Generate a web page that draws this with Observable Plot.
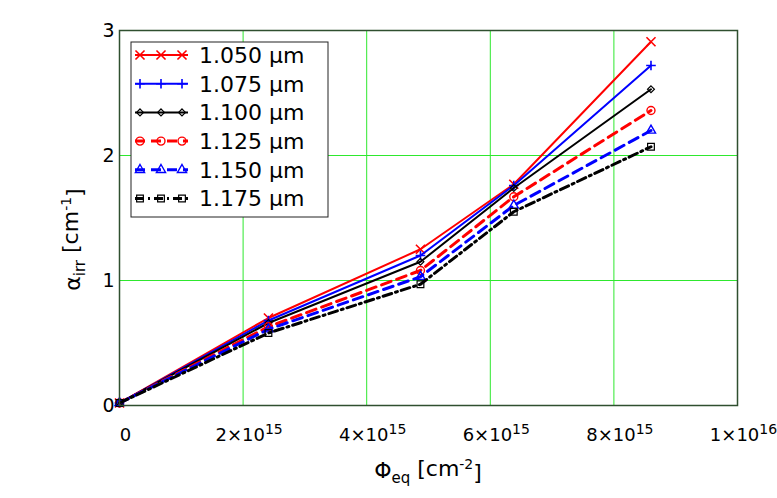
<!DOCTYPE html>
<html><head><meta charset="utf-8">
<script src="https://cdn.jsdelivr.net/npm/d3@7"></script>
<script src="https://cdn.jsdelivr.net/npm/@observablehq/plot@0.6"></script>
<style>body{margin:0;background:#fff} svg{display:block}</style>
</head><body><div id="chart"></div>
<script>
// ---- data ----
const series = ["1.050 µm", "1.075 µm", "1.100 µm", "1.125 µm", "1.150 µm", "1.175 µm"];
const fluence = [0, 2.41e15, 4.87e15, 6.38e15, 8.6e15];
const alpha1050 = [0.02, 0.70, 1.25, 1.77, 2.91];
const alpha1075 = [0.02, 0.68, 1.20, 1.76, 2.72];
const alpha1100 = [0.02, 0.66, 1.15, 1.74, 2.53];
const alpha1125 = [0.02, 0.63, 1.08, 1.67, 2.36];
const alpha1150 = [0.02, 0.61, 1.03, 1.60, 2.20];
const alpha1175 = [0.02, 0.58, 0.97, 1.55, 2.07];
const xTicks = [0, 2e15, 4e15, 6e15, 8e15, 1e16];
const yTicks = [0, 1, 2, 3];

// ---- styles ----
const values = [alpha1050, alpha1075, alpha1100, alpha1125, alpha1150, alpha1175];
const colors = ["#ff0000", "#0000ff", "#000000", "#ff0000", "#0000ff", "#000000"];
const widths = [2, 2, 2, 3, 3, 3];
const dashes = [null, null, null, "10,6", "10,6", "9,4,2,4"];
const symbols = ["times", "plus", "diamond2", "circle", "triangle", "square"];
const d3symbols = [d3.symbolTimes, d3.symbolPlus, d3.symbolDiamond2, d3.symbolCircle, d3.symbolTriangle, d3.symbolSquare];
const radii = [4.2, 3.2, 3.1, 4, 3.4, 3.8];
const mstroke = [1.6, 1.6, 1.2, 1.4, 1.4, 1.2];
const font = "DejaVu Sans, Verdana, sans-serif";

const rows = series.flatMap((s, si) => fluence.map((f, i) => ({series: s, si, f, a: values[si][i]})));

const lineMarks = series.map((s, si) => Plot.line(rows.filter(r => r.si === si), {
  x: "f", y: "a", stroke: colors[si], strokeWidth: widths[si], strokeDasharray: dashes[si]
}));
const dotMarks = series.map((s, si) => Plot.dot(rows.filter(r => r.si === si), {
  x: "f", y: "a", symbol: symbols[si], r: radii[si], stroke: colors[si], fill: "none", strokeWidth: mstroke[si]
}));

const fmt = d => {
  if (d === 0) return "0";
  const e = Math.floor(Math.log10(d));
  const m = Math.round(d / 10 ** e);
  return `${m}×10^${e}`;
};

const chart = Plot.plot({
  width: 777, height: 498,
  marginLeft: 119, marginRight: 40, marginTop: 30, marginBottom: 93,
  style: {fontFamily: font, fontSize: "18px", background: "white", color: "#000", overflow: "visible"},
  x: {domain: [0, 1e16]},
  y: {domain: [0, 3]},
  marks: [
    Plot.gridX([2e15, 4e15, 6e15, 8e15], {stroke: "#2ee82e", strokeOpacity: 1, strokeWidth: 1}),
    Plot.gridY([1, 2], {stroke: "#2ee82e", strokeOpacity: 1, strokeWidth: 1}),
    ...lineMarks.flatMap((l, i) => [l, dotMarks[i]]),
    Plot.frame({stroke: "#2f4f2f", strokeWidth: 1.5}),
    Plot.axisX(xTicks, {tickSize: 0, tickPadding: 23, tickFormat: fmt, fontSize: 18, label: null, dx: 6}),
    Plot.axisY(yTicks, {tickSize: 0, tickPadding: 5, tickFormat: d => String(d), fontSize: 19, label: null})
  ]
});
document.getElementById("chart").appendChild(chart);

const svg = d3.select(chart);
// superscripts in x tick labels
svg.selectAll('g[aria-label="x-axis tick label"] text').each(function() {
  const s = this.textContent;
  if (!s.includes("^")) return;
  const [base, exp] = s.split("^");
  const t = d3.select(this);
  t.text("");
  t.append("tspan").text(base);
  t.append("tspan").attr("dy", "-0.55em").attr("font-size", "14px").text(exp);
});

const sx = chart.scale("x"), sy = chart.scale("y");
const cx = (sx.apply(0) + sx.apply(1e16)) / 2;
// x axis title
const xt = svg.append("text").attr("x", cx).attr("y", 478).attr("text-anchor", "middle")
  .attr("font-family", font).attr("font-size", 22);
xt.append("tspan").text("Φ");
xt.append("tspan").attr("dy", "0.3em").attr("font-size", 15).text("eq");
xt.append("tspan").attr("dy", "-0.3em").text(" [cm");
xt.append("tspan").attr("dy", "-0.5em").attr("font-size", 14).text("-2");
xt.append("tspan").attr("dy", "0.5em").text("]");
// y axis title
const yt = svg.append("text").attr("transform", `translate(80,${(sy.apply(0) + sy.apply(3)) / 2 + 22}) rotate(-90)`)
  .attr("text-anchor", "middle").attr("font-family", font).attr("font-size", 22);
yt.append("tspan").text("α");
yt.append("tspan").attr("dy", "0.3em").attr("font-size", 15).text("irr");
yt.append("tspan").attr("dy", "-0.3em").text(" [cm");
yt.append("tspan").attr("dy", "-0.5em").attr("font-size", 14).text("-1");
yt.append("tspan").attr("dy", "0.5em").text("]");

// legend
const lg = svg.append("g");
const lx = sx.apply(0) + 12, ly = sy.apply(3) + 12, rowH = 28.7;
lg.append("rect").attr("x", lx).attr("y", ly).attr("width", 197).attr("height", 175)
  .attr("fill", "white").attr("stroke", "#222").attr("stroke-width", 1);
series.forEach((s, i) => {
  const y = ly + 13 + i * rowH;
  lg.append("line").attr("x1", lx + 4).attr("x2", lx + 57).attr("y1", y).attr("y2", y)
    .attr("stroke", colors[i]).attr("stroke-width", widths[i]).attr("stroke-dasharray", dashes[i]);
  [9, 30, 51].forEach(dx => {
    lg.append("path").attr("d", d3.symbol().type(d3symbols[i]).size(Math.PI * radii[i] * radii[i])())
      .attr("transform", `translate(${lx + dx},${y})`)
      .attr("fill", "none").attr("stroke", colors[i]).attr("stroke-width", mstroke[i]);
  });
  lg.append("text").attr("x", lx + 68).attr("y", y).attr("dy", "0.36em").attr("text-anchor", "start")
    .attr("font-family", font).attr("font-size", 22).text(s);
});
</script>
</body></html>
